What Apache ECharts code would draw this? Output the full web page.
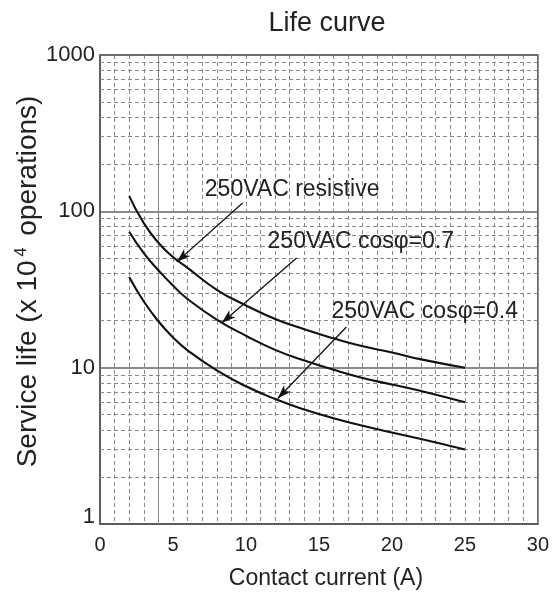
<!DOCTYPE html>
<html>
<head>
<meta charset="utf-8">
<script src="https://cdn.jsdelivr.net/npm/echarts@6/dist/echarts.min.js"></script>
<style>html,body{margin:0;padding:0;background:#fff;}#c{width:552px;height:603px;}</style>
</head>
<body>
<div id="c"></div>
<script>
// ---- data ----
const currents  = [2, 3, 4, 5, 6, 8, 10, 12, 14, 16, 18, 20, 22, 25];
const resistive = [125, 84, 63, 51, 43.5, 31.5, 25, 20.5, 17.6, 15.4, 13.7, 12.5, 11.3, 10];
const cos07     = [74, 54, 42, 33.5, 27.5, 20.3, 16, 13, 11.1, 9.7, 8.6, 7.8, 7.1, 6.0];
const cos04     = [38, 26.5, 19.8, 15.6, 12.9, 9.6, 7.6, 6.3, 5.4, 4.75, 4.25, 3.85, 3.5, 3.0];
const xTicks    = [0, 5, 10, 15, 20, 25, 30];
const yTicks    = [1, 10, 100, 1000];
const seriesNames = ['250VAC resistive', '250VAC cos\u03c6=0.7', '250VAC cos\u03c6=0.4'];
// annotation anchors in data units
const annoLabelX = [7.18, 11.48, 15.86];
const annoLabelY = [137, 63.7, 22.7];
const arrowFrom  = [[9.77, 113], [13.47, 50.3], [16.88, 18.2]];
const arrowTo    = [[5.26, 47.5], [8.34, 19.3], [12.17, 6.35]];

const minorY = [];
for (let k = 0; k < 3; k++) for (let d = 2; d <= 9; d++) minorY.push(d * Math.pow(10, k));

const chart = echarts.init(document.getElementById('c'), null, {renderer: 'canvas'});
const FONT = 'Liberation Sans, Arial, sans-serif';
const lineData = (arr) => currents.map((x, i) => [x, arr[i]]);

const curveStyle = {color: '#111', width: 2.1};
const option = {
  backgroundColor: '#fff',
  animation: false,
  title: {
    text: 'Life curve', left: 322, top: 5, textAlign: 'center',
    textStyle: {fontFamily: FONT, fontSize: 27, fontWeight: 'normal', color: '#222'}
  },
  grid: {left: 100, right: 13, top: 55, bottom: 79, show: true, borderColor: '#555', borderWidth: 1.5, backgroundColor: 'transparent'},
  xAxis: {
    type: 'value', min: 0, max: 30, interval: 5,
    name: 'Contact current (A)', nameLocation: 'middle', nameGap: 43,
    nameTextStyle: {fontFamily: FONT, fontSize: 23, color: '#222', padding: [0, 0, 0, 14]},
    axisLine: {show: true, lineStyle: {color: '#555', width: 1.5}},
    axisTick: {show: false},
    axisLabel: {fontFamily: FONT, fontSize: 20, color: '#222', margin: 11,
      formatter: (v) => xTicks.includes(v) ? String(v) : ''},
    splitLine: {show: true, lineStyle: {color: '#888', width: 1, type: [4, 3]}},
    minorTick: {show: false, splitNumber: 5},
    minorSplitLine: {show: true, lineStyle: {color: '#888', width: 1, type: [4, 3]}}
  },
  yAxis: {
    type: 'log', logBase: 10, min: 1, max: 1000,
    name: '{a|Service life (x 10}{s|4}{a| operations)}',
    nameLocation: 'middle', nameGap: 58, nameMoveOverlap: false,
    nameTextStyle: {fontFamily: FONT, fontSize: 28, color: '#222', padding: [0, 0, 0, 16],
      rich: {a: {fontFamily: FONT, fontSize: 28, color: '#222'},
             s: {fontFamily: FONT, fontSize: 16, color: '#222', verticalAlign: 'top', padding: [0, 4, 0, 4]}}},
    axisLine: {show: true, lineStyle: {color: '#555', width: 1.5}},
    axisTick: {show: false},
    axisLabel: {fontFamily: FONT, fontSize: 22, color: '#222', margin: 5,
      formatter: (v) => {
        const r = Math.round(v);
        if (!yTicks.includes(r)) return '';
        return r === 1 ? '{low|1}' : String(r);
      },
      rich: {low: {fontFamily: FONT, fontSize: 22, color: '#222', padding: [0, 0, 14, 0]}}},
    splitLine: {show: true, lineStyle: {color: '#666', width: 1.5}}
  },
  series: [
    {
      type: 'line', data: [], z: 1, silent: true,
      markLine: {
        silent: true, symbol: ['none', 'none'], label: {show: false}, animation: false,
        data: minorY.map(v => ({yAxis: v, lineStyle: {color: '#888', width: 1, type: [4, 3]}}))
          .concat([{xAxis: 4, lineStyle: {color: '#888', width: 1, type: 'solid'}}])
      }
    },
    {name: seriesNames[0], type: 'line', data: lineData(resistive), smooth: 0.5, showSymbol: false, lineStyle: curveStyle, z: 5},
    {name: seriesNames[1], type: 'line', data: lineData(cos07), smooth: 0.5, showSymbol: false, lineStyle: curveStyle, z: 5},
    {name: seriesNames[2], type: 'line', data: lineData(cos04), smooth: 0.5, showSymbol: false, lineStyle: curveStyle, z: 5},
    {
      type: 'line', data: [], z: 6, silent: true,
      markLine: {
        silent: true, symbol: ['none', 'arrow'], symbolSize: [7, 14], label: {show: false}, animation: false,
        lineStyle: {color: '#111', width: 1.3, type: 'solid'},
        data: arrowFrom.map((f, i) => [{coord: f}, {coord: arrowTo[i]}])
      },
      markPoint: {
        silent: true, symbol: 'circle', symbolSize: 0, animation: false,
        data: seriesNames.map((n, i) => ({coord: [annoLabelX[i], annoLabelY[i]], value: n})),
        label: {show: true, position: 'right', distance: 0, formatter: (p) => p.value,
          fontFamily: FONT, fontSize: 23, color: '#222'}
      }
    }
  ]
};
chart.setOption(option);
</script>
</body>
</html>
